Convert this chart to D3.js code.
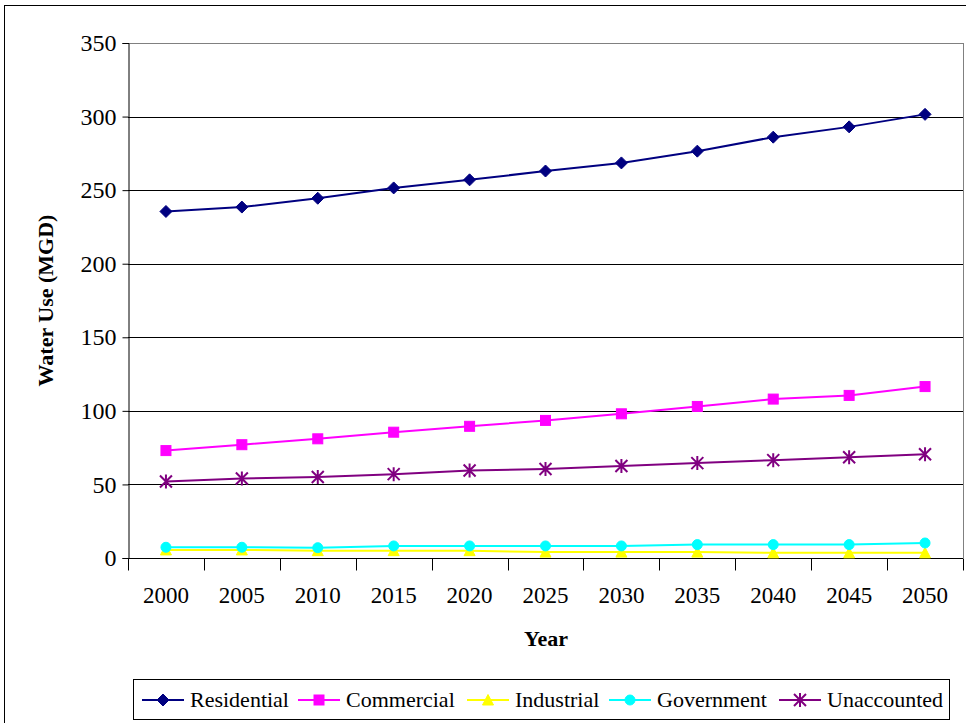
<!DOCTYPE html>
<html>
<head>
<meta charset="utf-8">
<script src="https://cdn.jsdelivr.net/npm/d3@7"></script>
<style>
  html, body { margin: 0; padding: 0; background: #fff; }
  svg { display: block; font-family: 'Liberation Serif', 'Times New Roman', serif; }
  svg text { font-family: 'Liberation Serif', 'Times New Roman', serif !important; fill: #000; }
</style>
</head>
<body>
<svg id="chart" width="966" height="723"></svg>
<script>
const years = ["2000","2005","2010","2015","2020","2025","2030","2035","2040","2045","2050"];
const residential = [235.5, 238.5, 244.5, 251.5, 257, 263, 268.5, 276.5, 286, 293, 301.5];
const commercial = [73, 77, 81, 85.5, 89.5, 93.5, 98, 103, 108, 110.5, 116.5];
const industrial = [5.5, 5.5, 5, 5, 5, 4, 4, 4, 3.5, 3.5, 3.5];
const government = [7.3, 7.3, 7, 8.2, 8.2, 8.2, 8.2, 9.1, 9.1, 9.1, 10.2];
const unaccounted = [52, 54, 55, 57, 59.5, 60.5, 62.5, 64.5, 66.5, 68.5, 70.5];
const yTicks = [0, 50, 100, 150, 200, 250, 300, 350];
const seriesNames = ["Residential","Commercial","Industrial","Government","Unaccounted"];
const seriesColors = ["#000080","#FF00FF","#FFFF00","#00FFFF","#800080"];
const seriesMarkers = ["diamond","square","triangle","circle","asterisk"];
const seriesValues = [residential, commercial, industrial, government, unaccounted];

const FONT = "'Liberation Serif', 'Times New Roman', serif";
const svg = d3.select("#chart");
const L = 128, R = 963, T = 43, B = 558;

// outer border
svg.append("rect").attr("x", 4.5).attr("y", 5.5).attr("width", 970).attr("height", 730)
  .attr("fill", "none").attr("stroke", "#000").attr("stroke-width", 1);

const x = d3.scaleBand().domain(years).range([L, R]).padding(0);
const xc = d => x(d) + x.bandwidth() / 2;
const y = d3.scaleLinear().domain([0, 350]).range([B, T]);

// gridlines
svg.append("g").selectAll("line").data(yTicks.filter(v => v > 0)).join("line")
  .attr("x1", L).attr("x2", R)
  .attr("y1", d => Math.round(y(d)) + 0.5).attr("y2", d => Math.round(y(d)) + 0.5)
  .attr("stroke", d => d === 350 ? "#808080" : "#000").attr("stroke-width", 1);
// right plot border
svg.append("line").attr("x1", R + 0.5).attr("x2", R + 0.5).attr("y1", T).attr("y2", B)
  .attr("stroke", "#808080");

// y axis
const yAxis = d3.axisLeft(y).tickValues(yTicks).tickSize(6).tickPadding(6);
const gy = svg.append("g").attr("transform", `translate(${L + 0.5},0)`).call(yAxis)
  .attr("font-family", FONT).attr("font-size", 24);
gy.select(".domain").attr("stroke", "#000");
gy.selectAll(".tick line").attr("stroke", "#000");
gy.selectAll(".tick text").style("font-family", FONT).style("font-size", "24px").attr("fill", "#000");

// x axis: ticks at category boundaries
const gx = svg.append("g").attr("transform", `translate(0,${B + 0.5})`);
gx.append("line").attr("x1", L).attr("x2", R).attr("stroke", "#000");
const bounds = years.map(d => x(d)).concat([R]);
gx.selectAll("line.tk").data(bounds).join("line").attr("class", "tk")
  .attr("x1", d => Math.round(d) + 0.5).attr("x2", d => Math.round(d) + 0.5)
  .attr("y1", 0).attr("y2", 12).attr("stroke", "#000");
gx.selectAll("text").data(years).join("text")
  .attr("x", d => xc(d)).attr("y", 44)
  .attr("text-anchor", "middle").style("font-family", FONT).style("font-size", "23px").text(d => d);

// axis titles
svg.append("text").attr("x", 546).attr("y", 646).attr("text-anchor", "middle")
  .style("font-family", FONT).style("font-size", "22px").attr("font-weight", "bold").text("Year");
svg.append("text").attr("transform", `translate(53,${(T + B) / 2}) rotate(-90)`)
  .attr("text-anchor", "middle").style("font-family", FONT).style("font-size", "22px").attr("font-weight", "bold")
  .text("Water Use (MGD)");

function drawMarker(g, type, color, cx, cy) {
  if (type === "diamond") {
    g.append("path").attr("d", `M${cx},${cy-6}L${cx+6},${cy}L${cx},${cy+6}L${cx-6},${cy}Z`)
      .attr("fill", color).attr("stroke", color);
  } else if (type === "square") {
    g.append("rect").attr("x", cx - 5).attr("y", cy - 5).attr("width", 10).attr("height", 10)
      .attr("fill", color).attr("stroke", color);
  } else if (type === "triangle") {
    g.append("path").attr("d", `M${cx},${cy-5.5}L${cx+5.5},${cy+5}L${cx-5.5},${cy+5}Z`)
      .attr("fill", color).attr("stroke", color);
  } else if (type === "circle") {
    g.append("circle").attr("cx", cx).attr("cy", cy).attr("r", 5)
      .attr("fill", color).attr("stroke", color);
  } else if (type === "asterisk") {
    const s = 6;
    g.append("path")
      .attr("d", `M${cx-s},${cy-s}L${cx+s},${cy+s}M${cx-s},${cy+s}L${cx+s},${cy-s}M${cx},${cy-s-1}L${cx},${cy+s+1}`)
      .attr("stroke", color).attr("stroke-width", 2).attr("fill", "none");
  }
}

// series (yellow under cyan as in reference)
const order = [2, 3, 4, 1, 0];
order.forEach(i => {
  const g = svg.append("g");
  const line = d3.line().x((d, j) => xc(years[j])).y(d => y(d));
  g.append("path").datum(seriesValues[i]).attr("d", line)
    .attr("fill", "none").attr("stroke", seriesColors[i]).attr("stroke-width", 2);
  seriesValues[i].forEach((v, j) => drawMarker(g, seriesMarkers[i], seriesColors[i], xc(years[j]), y(v)));
});

// legend
svg.append("rect").attr("x", 133.5).attr("y", 679.5).attr("width", 816).attr("height", 40)
  .attr("fill", "#fff").attr("stroke", "#000");
const legX = [142, 298, 467, 609, 779];
seriesNames.forEach((name, i) => {
  const g = svg.append("g");
  const x0 = legX[i], ly = 700;
  g.append("line").attr("x1", x0).attr("x2", x0 + 42).attr("y1", ly).attr("y2", ly)
    .attr("stroke", seriesColors[i]).attr("stroke-width", 2);
  drawMarker(g, seriesMarkers[i], seriesColors[i], x0 + 21, ly);
  g.append("text").attr("x", x0 + 48).attr("y", ly + 7)
    .style("font-family", FONT).style("font-size", "22px").text(name);
});
</script>
</body>
</html>
